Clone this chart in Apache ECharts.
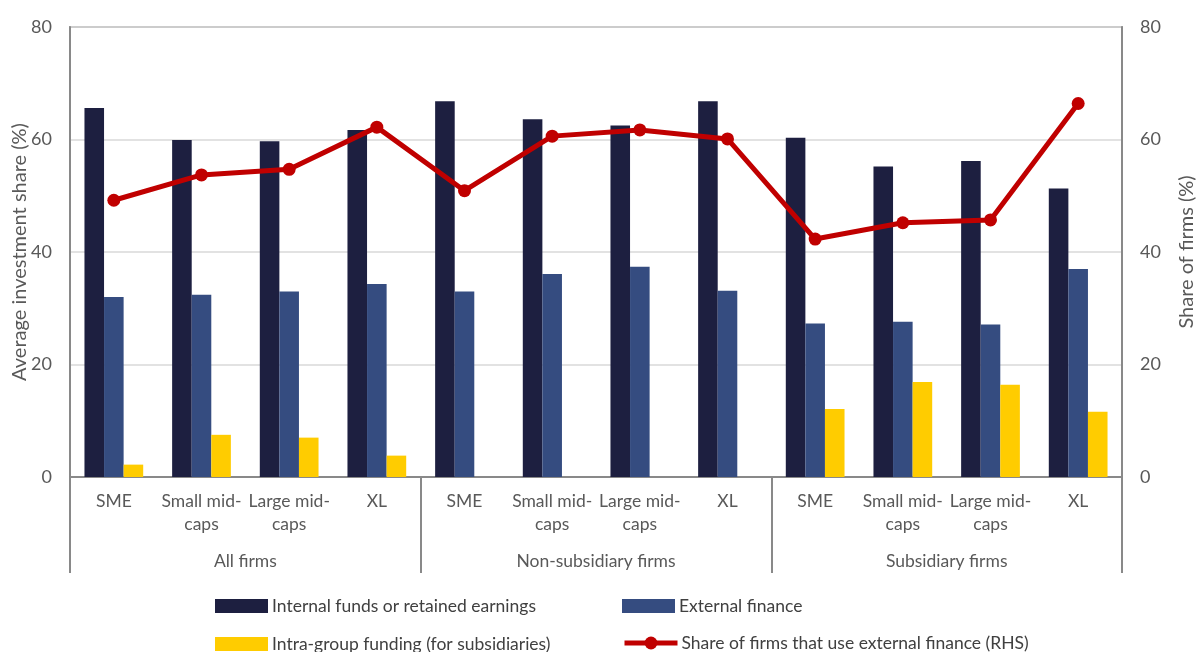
<!DOCTYPE html>
<html>
<head>
<meta charset="utf-8">
<script src="https://cdn.jsdelivr.net/npm/echarts@6/dist/echarts.min.js"></script>
<style>
  html, body { margin: 0; padding: 0; background: #fff; }
  #chart { width: 1198px; height: 652px; }
</style>
</head>
<body>
<div id="chart"></div>
<script>
  // categories (first level) and groups (second level)
  var categories = ['SME', 'Small mid-\ncaps', 'Large mid-\ncaps', 'XL',
                    'SME', 'Small mid-\ncaps', 'Large mid-\ncaps', 'XL',
                    'SME', 'Small mid-\ncaps', 'Large mid-\ncaps', 'XL']
  var groups = ['All firms', 'Non-subsidiary firms', 'Subsidiary firms']

  // values
  var internalFunds = [65.6, 59.9, 59.7, 61.7, 66.8, 63.6, 62.5, 66.8, 60.3, 55.2, 56.2, 51.3]
  var externalFinance = [32.0, 32.4, 33.0, 34.3, 33.0, 36.1, 37.4, 33.1, 27.3, 27.6, 27.1, 37.0]
  var intraGroup = [2.2, 7.5, 7.0, 3.8, null, null, null, null, 12.1, 16.9, 16.4, 11.6]
  var shareExternal = [49.2, 53.7, 54.7, 62.2, 50.9, 60.6, 61.7, 60.1, 42.3, 45.2, 45.7, 66.4]

  var gray = '#898989'
  var txt = '#595959'
  var font = 'Lato'

  // one legend per item so the 2x2 layout stays put
  function legendItem (name, left, top, icon) {
    var l = {
      data: [name], left: left, top: top,
      itemWidth: 53, itemHeight: 14, itemGap: 4,
      textStyle: { color: '#404040', fontSize: 17.5, fontFamily: font, padding: [0, 0, 0, -1] }
    }
    if (icon) {
      l.icon = icon
    } else {
      l.itemHeight = 16
      l.lineStyle = { width: 5 }
    }
    return l
  }

  var chart = echarts.init(document.getElementById('chart'))
  chart.setOption({
    animation: false,
    textStyle: { fontFamily: font },
    grid: {
      left: 70, right: 76, top: 27, bottom: 175,
      outerBoundsMode: 'none',
      containLabel: false,
      show: true, borderColor: gray, borderWidth: 1.5
    },
    legend: [
      legendItem('Internal funds or retained earnings', 210, 592, 'rect'),
      legendItem('External finance', 617, 592, 'rect'),
      legendItem('Intra-group funding (for subsidiaries)', 210, 630, 'rect'),
      legendItem('Share of firms that use external finance (RHS)', 617, 629)
    ],
    xAxis: [
      {
        type: 'category',
        data: categories,
        axisLine: { lineStyle: { color: gray, width: 2 } },
        axisTick: { show: false },
        axisLabel: { interval: 0, color: txt, fontSize: 17.5, margin: 13, lineHeight: 23 }
      },
      {
        type: 'category',
        data: groups,
        position: 'bottom',
        axisLine: { show: false },
        axisTick: { show: true, interval: 0, length: 96, lineStyle: { color: gray, width: 2 } },
        axisLabel: { interval: 0, color: txt, fontSize: 17.5, margin: 75 }
      }
    ],
    yAxis: [
      {
        type: 'value', min: 0, max: 80, interval: 20,
        name: 'Average investment share (%)',
        nameLocation: 'middle', nameGap: 40, nameMoveOverlap: false,
        nameTextStyle: { color: txt, fontSize: 20 },
        axisLine: { show: true, lineStyle: { color: gray, width: 2 } },
        axisTick: { show: false },
        axisLabel: { color: txt, fontSize: 18, margin: 18 },
        splitLine: { lineStyle: { color: '#d9d9d9', width: 1.5 } }
      },
      {
        type: 'value', min: 0, max: 80, interval: 20,
        name: 'Share of firms (%)',
        nameLocation: 'middle', nameGap: 55, nameMoveOverlap: false,
        nameTextStyle: { color: txt, fontSize: 20 },
        axisLine: { show: true, lineStyle: { color: gray, width: 2 } },
        axisTick: { show: false },
        axisLabel: { color: txt, fontSize: 18, margin: 18 },
        splitLine: { show: false }
      }
    ],
    series: [
      {
        name: 'Internal funds or retained earnings',
        type: 'bar', data: internalFunds,
        barGap: '0%', barCategoryGap: '33%',
        itemStyle: { color: '#1d1f40' }
      },
      {
        name: 'External finance',
        type: 'bar', data: externalFinance,
        itemStyle: { color: '#354c80' }
      },
      {
        name: 'Intra-group funding (for subsidiaries)',
        type: 'bar', data: intraGroup,
        itemStyle: { color: '#ffcc00' }
      },
      {
        name: 'Share of firms that use external finance (RHS)',
        type: 'line', yAxisIndex: 1, data: shareExternal,
        symbol: 'circle', symbolSize: 13,
        lineStyle: { color: '#c00000', width: 5 },
        itemStyle: { color: '#c00000' }
      }
    ]
  })
</script>
</body>
</html>
